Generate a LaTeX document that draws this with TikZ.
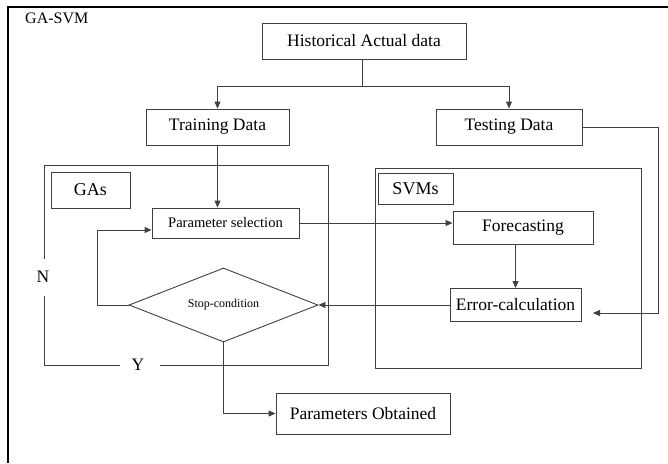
\documentclass[tikz,border=0pt]{standalone}
\usepackage{fontspec}
\setmainfont{Liberation Serif}
\usetikzlibrary{shapes.geometric,arrows.meta}
\tikzset{
  box/.style={draw=black!75, line width=0.9pt, rectangle, inner sep=0pt, font=\fontsize{17.5}{20}\selectfont},
  ln/.style={draw=black!75, line width=0.9pt},
  arr/.style={ln, -{Triangle[length=7pt,width=6pt]}},
  lbl/.style={inner sep=0pt, font=\fontsize{17.5}{20}\selectfont}
}
\begin{document}
\begin{tikzpicture}[x=1pt,y=-1pt]
\useasboundingbox (0,0) rectangle (668,463);
% outer frame
\draw[line width=1.6pt] (8,463) -- (8,7) -- (668,7);
\node[lbl, anchor=west, font=\fontsize{16}{18}\selectfont] (title) at (25,18) {GA-SVM};

% nodes
\node[box, minimum width=204, minimum height=36] (hist) at (364,41) {Historical Actual data};
\node[box, minimum width=143, minimum height=36] (train) at (217.5,127) {Training Data};
\node[box, minimum width=146, minimum height=36] (test) at (509,127) {Testing Data};

% GA box
\draw[ln] (44,259) -- (44,165) -- (328,165) -- (328,365) -- (160,365);
\draw[ln] (120,365) -- (44,365) -- (44,296);
\node[lbl] (N) at (43,277) {N};
\node[lbl] (Y) at (138,365) {Y};
\node[box, minimum width=79, minimum height=36, font=\fontsize{18}{20}\selectfont] (galbl) at (90.5,190) {GAs};
\node[box, minimum width=147, minimum height=30, font=\fontsize{14.6}{17}\selectfont] (param) at (225.5,223) {Parameter selection};
\node[draw=black!75, line width=0.9pt, diamond, aspect=2.55, minimum width=189, minimum height=74, inner sep=0pt, font=\fontsize{12}{14}\selectfont] (dia) at (223.5,305) {Stop-condition};
\node[box, minimum width=174, minimum height=41] (pobt) at (363,413.5) {Parameters Obtained};

% SVM box
\draw[ln] (375,168) rectangle (641,368);
\node[box, minimum width=75, minimum height=31, font=\fontsize{18}{20}\selectfont] (svmlbl) at (415.5,188.5) {SVMs};
\node[box, minimum width=140, minimum height=33] (fore) at (523,227.5) {Forecasting};
\node[box, minimum width=131, minimum height=33] (err) at (515.5,305) {Error-calculation};

% connectors
\coordinate (j) at (362,86);
\draw[ln] (hist.south -| j) -- (j);
\draw[arr] (j) -| (train.north);
\draw[arr] (j) -| (test.north);
\draw[arr] (train.south) -- (train.south |- param.north);
\draw[arr] (param.east) -- (param.east -| fore.west);
\draw[arr] (fore.south -| err.north) -- (err.north);
\draw[arr] (err.west) -- (dia.east);
\coordinate (lp) at (97,230);
\draw[arr] (dia.west) -| (lp) -- (lp -| param.west);
\draw[arr] (dia.south) |- (pobt.west);
\coordinate (te) at (593,313);
\draw[arr] (test.east) -- (658,127) |- (te);
\end{tikzpicture}
\end{document}
